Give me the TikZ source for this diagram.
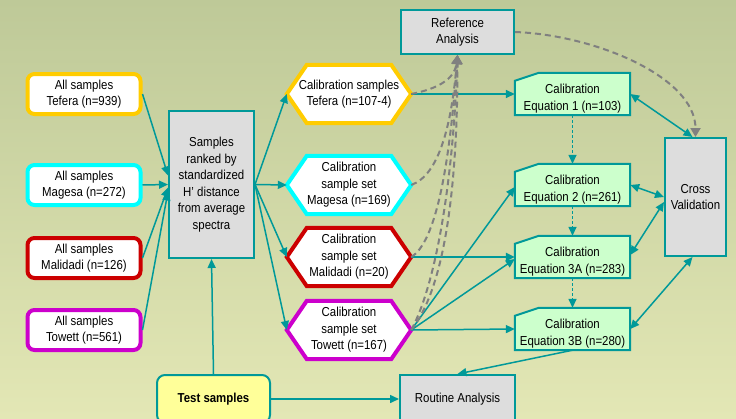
\documentclass[tikz,border=0pt]{standalone}
\usepackage{fontspec}
\setmainfont{Liberation Sans}[FakeStretch=0.88]
\usepackage{tikz}
\usetikzlibrary{arrows.meta, positioning, calc, backgrounds}
\definecolor{tealline}{RGB}{0,153,153}
\definecolor{boxgrey}{RGB}{221,221,221}
\definecolor{eqgreen}{RGB}{204,255,204}
\definecolor{testyellow}{RGB}{255,255,153}
\definecolor{dashgrey}{RGB}{128,128,128}
\definecolor{bgtop}{RGB}{190,201,152}
\definecolor{bgbottom}{RGB}{227,231,181}
\definecolor{tefgold}{RGB}{255,204,0}
\definecolor{magcyan}{RGB}{0,255,255}
\definecolor{malred}{RGB}{204,0,0}
\definecolor{towpurple}{RGB}{204,0,204}
\newcommand{\eqpad}{\rule{0pt}{19pt}}
\tikzset{
    txt/.style={font=\fontsize{13}{16.5}\selectfont, align=center, inner sep=1pt},
    allbox/.style={txt, rectangle, rounded corners=7pt, minimum width=113pt, minimum height=40pt, fill=white, line width=4pt},
    calset/.style={txt, rectangle, minimum width=124pt, minimum height=58pt},
    greybox/.style={txt, rectangle, draw=tealline, fill=boxgrey, line width=2pt},
    equation/.style={txt, rectangle, minimum width=115pt, minimum height=42pt},
    testbox/.style={txt, rectangle, rounded corners=8pt, minimum width=113pt, minimum height=48pt, draw=tealline, fill=testyellow, line width=2pt, font=\fontsize{13}{16.5}\selectfont\bfseries},
    arrow/.style={draw=tealline, line width=1.5pt, -{Triangle[length=9pt, width=8pt]}},
    twoway/.style={draw=tealline, line width=1.5pt, {Triangle[length=9pt, width=8pt]}-{Triangle[length=9pt, width=8pt]}},
    dotarrow/.style={arrow, dash pattern=on 3pt off 2pt},
    refarrow/.style={draw=dashgrey, line width=2pt, dash pattern=on 6pt off 4pt, -{Triangle[length=9pt, width=10pt]}}
}

\begin{document}
\begin{tikzpicture}[x=1pt, y=-1pt]
    % Background
    \begin{scope}[on background layer]
        \shade[top color=bgtop, bottom color=bgbottom] (0,0) rectangle (736,418);
    \end{scope}
    \useasboundingbox (0,0) rectangle (736,418);

    % All Samples
    \node[allbox, draw=tefgold] (sTef) at (84, 94) {All samples\\Tefera (n=939)};
    \node[allbox, draw=magcyan] (sMag) at (84, 185) {All samples\\Magesa (n=272)};
    \node[allbox, draw=malred] (sMal) at (84, 258) {All samples\\Malidadi (n=126)};
    \node[allbox, draw=towpurple] (sTow) at (84, 330) {All samples\\Towett (n=561)};

    % Ranking and Test Samples
    \node[greybox, minimum width=85pt, minimum height=147pt] (rank) at (211.5, 184.5) {Samples\\ranked by\\standardized\\H' distance\\from average\\spectra};
    \node[testbox] (test) at (213.5, 399) {Test samples};

    % Calibration Sample Sets
    \node[calset] (hTef) at (349, 94) {Calibration samples\\Tefera (n=107-4)};
    \node[calset] (hMag) at (349, 185) {Calibration\\sample set\\Magesa (n=169)};
    \node[calset] (hMal) at (349, 257) {Calibration\\sample set\\Malidadi (n=20)};
    \node[calset] (hTow) at (349, 330) {Calibration\\sample set\\Towett (n=167)};

    % Analyses
    \node[greybox, minimum width=113pt, minimum height=44pt] (ref) at (457.5, 32) {Reference\\Analysis};
    \node[greybox, minimum width=115pt, minimum height=48pt] (routine) at (457.5, 399) {Routine Analysis};
    \node[greybox, minimum width=61pt, minimum height=118pt] (cv) at (695.5, 197) {Cross\\Validation};

    % Calibration Equations
    \node[equation] (eq1) at (572.5, 94) {\eqpad Calibration\\Equation 1 (n=103)};
    \node[equation] (eq2) at (572.5, 185) {\eqpad Calibration\\Equation 2 (n=261)};
    \node[equation] (eq3a) at (572.5, 257) {\eqpad Calibration\\Equation 3A (n=283)};
    \node[equation] (eq3b) at (572.5, 329) {\eqpad Calibration\\Equation 3B (n=280)};

    % Shape Outlines
    \begin{scope}[on background layer]
        \foreach \h/\c in {hTef/tefgold, hMag/magcyan, hMal/malred, hTow/towpurple} {
            \draw[line width=4pt, draw=\c, fill=white] (\h.west) -- ([xshift=20pt]\h.north west) -- ([xshift=-20pt]\h.north east) -- (\h.east) -- ([xshift=-20pt]\h.south east) -- ([xshift=20pt]\h.south west) -- cycle;
        }
        \foreach \e in {eq1, eq2, eq3a, eq3b} {
            \draw[line width=2pt, draw=tealline, fill=eqgreen] ([yshift=-8pt]\e.north west) -- ([xshift=24pt]\e.north west) -- (\e.north east) -- (\e.south east) -- (\e.south west) -- cycle;
        }
    \end{scope}

    % Into Ranking
    \draw[arrow] (sTef.east) -- ($(rank.west)+(0,-9)$);
    \draw[arrow] (sMag.east) -- (rank.west);
    \draw[arrow] (sMal.east) -- ($(rank.west)+(0,3)$);
    \draw[arrow] (sTow.east) -- ($(rank.west)+(0,7)$);
    \draw[arrow] (test.north) -- (rank.south);
    \draw[arrow] (test.east) -- (routine.west);

    % Ranking to Sample Sets
    \foreach \h in {hTef, hMag, hMal, hTow} {
        \draw[arrow] (rank.east) -- (\h.west);
    }

    % Sample Sets to Equations
    \draw[arrow] (hTef.east) -- (eq1.west);
    \draw[arrow, line width=2.5pt] (hMal.east) -- (eq3a.west);
    \draw[arrow] (hTow.east) -- ($(eq2.west)+(0,2)$);
    \draw[arrow] (hTow.east) -- ($(eq3a.west)+(0,2)$);
    \draw[arrow] (hTow.east) -- (eq3b.west);
    \draw[arrow] (eq3b.south) -- (routine.north);

    % Equation Chain
    \draw[dotarrow] (eq1.south) -- (eq2.north);
    \draw[dotarrow] (eq2.south) -- (eq3a.north);
    \draw[dotarrow] (eq3a.south) -- (eq3b.north);

    % Cross Validation
    \draw[twoway] (eq1.east) -- ($(cv.north)+(-3,0)$);
    \draw[twoway] (eq2.east) -- (cv.west);
    \draw[twoway] ($(eq3a.east)+(0,-2)$) -- ($(cv.west)+(0,5)$);
    \draw[twoway] (eq3b.east) -- ($(cv.south)+(-3,0)$);

    % Reference Analysis Links
    \draw[refarrow] (hTef.east) .. controls +(25,-5) and +(-3,25) .. (ref.south);
    \draw[refarrow] (hMag.east) .. controls +(28,-10) and +(-6,70) .. (ref.south);
    \draw[refarrow] (hMal.east) .. controls +(25,-15) and +(-8,110) .. (ref.south);
    \draw[refarrow] (hTow.east) .. controls +(22,-40) and +(-5,140) .. (ref.south);
    \draw[refarrow] (hTow.east) .. controls +(32,-40) and +(0,140) .. (ref.south);
    \draw[refarrow] (ref.east) .. controls +(80,3) and +(0,-60) .. (cv.north);
\end{tikzpicture}
\end{document}
